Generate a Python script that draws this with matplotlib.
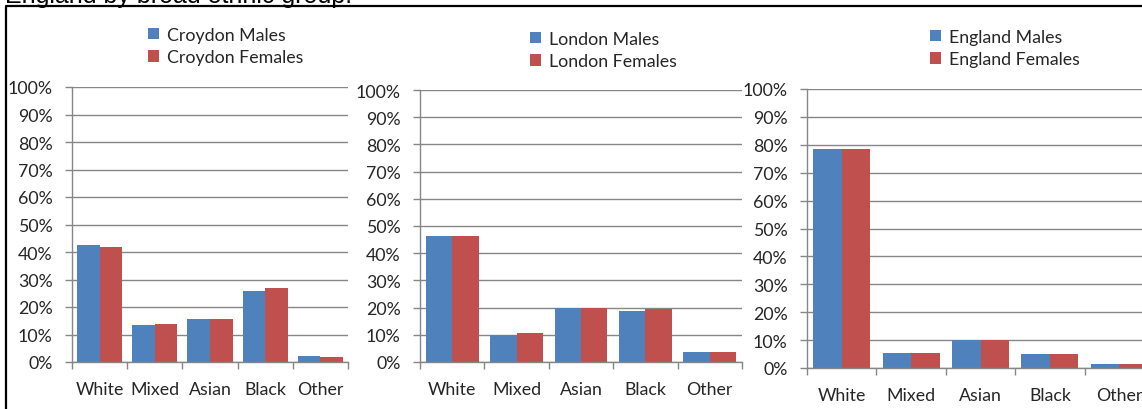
import matplotlib
matplotlib.use("Agg")
import matplotlib.pyplot as plt
from matplotlib.lines import Line2D
from matplotlib.ticker import FixedLocator, FuncFormatter
import numpy as np

categories = ["White", "Mixed", "Asian", "Black", "Other"]

croydon_males = [42.6, 13.3, 15.8, 26.0, 2.1]
croydon_females = [41.8, 13.8, 15.8, 26.8, 1.7]
london_males = [46.5, 10.1, 20.0, 18.9, 3.7]
london_females = [46.2, 10.5, 20.0, 19.4, 3.7]
england_males = [78.4, 5.3, 10.1, 4.9, 1.4]
england_females = [78.4, 5.3, 10.1, 4.9, 1.4]

panels = [
    ("Croydon", croydon_males, croydon_females),
    ("London", london_males, london_females),
    ("England", england_males, england_females),
]

yticks = list(range(0, 101, 10))

W, H = 1142, 410
plt.rcParams['font.family'] = ['Lato', 'DejaVu Sans']
fig = plt.figure(figsize=(W / 100, H / 100), dpi=100)
fig.patch.set_facecolor("white")

BLUE = "#4F81BD"
RED = "#C0504D"
GRID = "#868686"
TXT = "#262626"

# axes rects in pixels: (left, right, y0 pixel (0%), y100 pixel)
rects = [(72, 348, 363, 88), (420, 742, 363, 91), (807, 1154, 369, 90)]
legend_pos = [(148, 28), (530, 32), (930, 30)]

def px(x, y):
    return x / W, 1 - y / H

for (name, m, f), (l, r, y0, y1), (lx, ly) in zip(panels, rects, legend_pos):
    ax = fig.add_axes([l / W, 1 - y0 / H, (r - l) / W, (y0 - y1) / H])
    x = np.arange(len(categories))
    bw = 0.41
    ax.bar(x - bw / 2, m, bw, color=BLUE, label=f"{name} Males", zorder=3)
    ax.bar(x + bw / 2, f, bw, color=RED, label=f"{name} Females", zorder=3)
    ax.set_xlim(-0.5, len(categories) - 0.5)
    ax.set_ylim(0, 100)
    ax.set_yticks(yticks)
    ax.yaxis.set_major_formatter(FuncFormatter(lambda v, p: f"{int(v)}%"))
    ax.set_xticks(x)
    ax.set_xticklabels(categories)
    ax.xaxis.set_minor_locator(FixedLocator(np.arange(-0.5, len(categories), 1.0)))
    ax.tick_params(axis="x", which="major", length=0, pad=14, labelsize=12.8, labelcolor=TXT)
    ax.tick_params(axis="x", which="minor", length=5, width=1, color=GRID, direction="out")
    ax.tick_params(axis="y", length=5, width=1, color=GRID, direction="out", pad=9,
                   labelsize=12.8, labelcolor=TXT)
    for s in ["top", "right"]:
        ax.spines[s].set_visible(False)
    for s in ["left", "bottom"]:
        ax.spines[s].set_color(GRID)
        ax.spines[s].set_linewidth(1)
        ax.spines[s].set_zorder(4)
    ax.grid(axis="y", color=GRID, linewidth=1, zorder=0)
    ax.set_axisbelow(True)
    ax.set_facecolor("none")
    fx, fy = px(lx, ly)
    ax.legend(loc="upper left", bbox_to_anchor=(fx, fy), bbox_transform=fig.transFigure,
              frameon=False, fontsize=12.8, handlelength=0.6, handleheight=0.6,
              handletextpad=0.45, labelspacing=0.36, borderpad=0, borderaxespad=0,
              labelcolor=TXT)

# Title (cut off at top) and frame border
tx, ty = px(5, 3)
fig.text(tx, ty, "England by broad ethnic group.", fontsize=18, va="baseline", ha="left",
         family=["Liberation Sans", "DejaVu Sans"], color="black")
fig.add_artist(Line2D([6 / W, 6 / W, 1.0], [0.0, 1 - 7 / H, 1 - 7 / H], color="black",
                      linewidth=1.6, transform=fig.transFigure))

fig.savefig("out.png", dpi=100, facecolor="white")
